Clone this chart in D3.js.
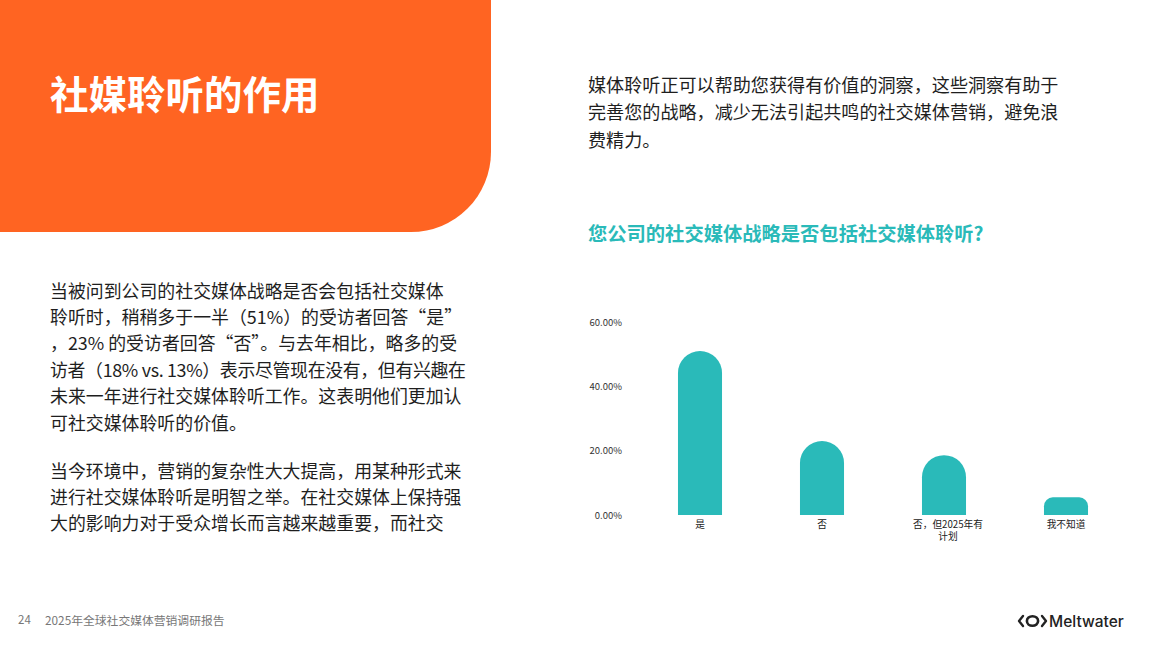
<!DOCTYPE html>
<html>
<head>
<meta charset="utf-8">
<script src="https://cdn.jsdelivr.net/npm/d3@7"></script>
<style>
  html, body { margin: 0; padding: 0; background: #fff; }
  svg { display: block; font-family: "Noto Sans CJK SC", "Noto Sans", sans-serif; }
</style>
</head>
<body>
<svg id="chart" width="1152" height="648"></svg>
<script>
// ---- data ----
const categories = ["是", "否", "否，但2025年有计划", "我不知道"];
const values = [51, 23, 18.6, 5.5];
const yTicks = [0, 20, 40, 60];

const pageTitle = "社媒聆听的作用";
const introLines = [
  "媒体聆听正可以帮助您获得有价值的洞察，这些洞察有助于",
  "完善您的战略，减少无法引起共鸣的社交媒体营销，避免浪",
  "费精力。"
];
const chartTitle = "您公司的社交媒体战略是否包括社交媒体聆听?";
const bodyLines1 = [
  "当被问到公司的社交媒体战略是否会包括社交媒体",
  "聆听时，稍稍多于一半（51%）的受访者回答“是”",
  "，23% 的受访者回答“否”。与去年相比，略多的受",
  "访者（18% vs. 13%）表示尽管现在没有，但有兴趣在",
  "未来一年进行社交媒体聆听工作。这表明他们更加认",
  "可社交媒体聆听的价值。"
];
const bodyLines2 = [
  "当今环境中，营销的复杂性大大提高，用某种形式来",
  "进行社交媒体聆听是明智之举。在社交媒体上保持强",
  "大的影响力对于受众增长而言越来越重要，而社交"
];
const pageNumber = "24";
const footerText = "2025年全球社交媒体营销调研报告";
const brand = "Meltwater";

// ---- drawing ----
const svg = d3.select("#chart");
const ORANGE = "#FF6422";
const TEAL = "#2ABAB9";

// orange header block with rounded bottom-right corner
const hw = 491, hh = 232, r = 80;
svg.append("path")
  .attr("d", `M0,0 H${hw} V${hh - r} A${r},${r} 0 0 1 ${hw - r},${hh} H0 Z`)
  .attr("fill", ORANGE);

svg.append("text")
  .attr("x", 50).attr("y", 109)
  .attr("fill", "#fff")
  .attr("font-size", 38.5)
  .attr("font-weight", 700)
  .text(pageTitle);

// intro paragraph (right)
svg.append("g").selectAll("text").data(introLines).join("text")
  .attr("x", 588).attr("y", (d, i) => 91.5 + i * 27.5)
  .attr("font-size", 18.1)
  .attr("fill", "#1e1e1e")
  .text(d => d);

// chart title
svg.append("text")
  .attr("x", 588).attr("y", 240.5)
  .attr("font-size", 19.3)
  .attr("font-weight", 700)
  .attr("fill", TEAL)
  .text(chartTitle);

// body paragraphs (left)
const bodyStyle = sel => sel.attr("x", 50).attr("font-size", 17.9).attr("fill", "#1e1e1e").text(d => d);
svg.append("g").selectAll("text").data(bodyLines1).join("text")
  .attr("y", (d, i) => 297.5 + i * 26.4)
  .call(bodyStyle)
  .attr("textLength", (d, i) => i === 3 ? 416 : null)
  .attr("lengthAdjust", "spacing");
svg.append("g").selectAll("text").data(bodyLines2).join("text")
  .attr("y", (d, i) => 477.5 + i * 26.4)
  .call(bodyStyle);

// ---- bar chart ----
const x = d3.scaleBand().domain(categories).range([639, 1127])
  .paddingInner(0.639).paddingOuter(0.3195);
const y = d3.scaleLinear().domain([0, 60]).range([515, 322]);

const yAxis = svg.append("g").attr("transform", "translate(628,0)")
  .call(d3.axisLeft(y).tickValues(yTicks).tickSize(0).tickPadding(6)
    .tickFormat(d => d.toFixed(2) + "%"));
yAxis.select(".domain").remove();
yAxis.selectAll("text").attr("font-size", 9.5).attr("fill", "#333")
  .attr("font-family", "'Noto Sans CJK SC', 'Noto Sans', sans-serif");

function topRounded(x0, y0, w, h) {
  const rr = Math.min(w / 2, h / 2);
  return `M${x0},${y0 + h} V${y0 + rr} A${rr},${rr} 0 0 1 ${x0 + rr},${y0} H${x0 + w - rr} A${rr},${rr} 0 0 1 ${x0 + w},${y0 + rr} V${y0 + h} Z`;
}

svg.append("g").selectAll("path").data(categories).join("path")
  .attr("d", (c, i) => topRounded(x(c), y(values[i]), x.bandwidth(), y(0) - y(values[i])))
  .attr("fill", TEAL);

const xAxis = svg.append("g").attr("transform", "translate(0,515)")
  .call(d3.axisBottom(x).tickSize(0).tickPadding(6));
xAxis.select(".domain").remove();
xAxis.selectAll("text").each(function (d) {
  const t = d3.select(this).text("");
  const chunks = [];
  for (let i = 0; i < d.length; i += 9) chunks.push(d.slice(i, i + 9));
  chunks.forEach((c, i) => t.append("tspan").attr("x", chunks.length > 1 ? 4 : 0)
    .attr("dy", i === 0 ? "0.71em" : "1.22em").text(c));
}).attr("dy", null).attr("font-size", 9.7).attr("fill", "#222")
  .attr("font-family", "'Noto Sans CJK SC', 'Noto Sans', sans-serif");

// ---- footer ----
svg.append("text").attr("x", 18).attr("y", 624).attr("font-size", 11.5)
  .attr("fill", "#777").text(pageNumber);
svg.append("text").attr("x", 45).attr("y", 624.5).attr("font-size", 11.8)
  .attr("fill", "#777").text(footerText);

// Meltwater logo
const logo = svg.append("g").attr("transform", "translate(1018,621)");
logo.append("path").attr("d", "M5,-5 L1,0 L5,5").attr("fill", "none")
  .attr("stroke", "#222").attr("stroke-width", 2.4).attr("stroke-linecap", "round").attr("stroke-linejoin", "round");
logo.append("path").attr("d", "M24,-5 L28,0 L24,5").attr("fill", "none")
  .attr("stroke", "#222").attr("stroke-width", 2.4).attr("stroke-linecap", "round").attr("stroke-linejoin", "round");
logo.append("ellipse").attr("cx", 14.5).attr("cy", 0).attr("rx", 5.6).attr("ry", 4.8)
  .attr("fill", "none").attr("stroke", "#222").attr("stroke-width", 2.6);
svg.append("text").attr("x", 1049).attr("y", 627).attr("font-size", 15.5)
  .attr("font-weight", 500).attr("fill", "#222")
  .attr("font-family", "Inter, 'Noto Sans', sans-serif").text(brand);
</script>
</body>
</html>
